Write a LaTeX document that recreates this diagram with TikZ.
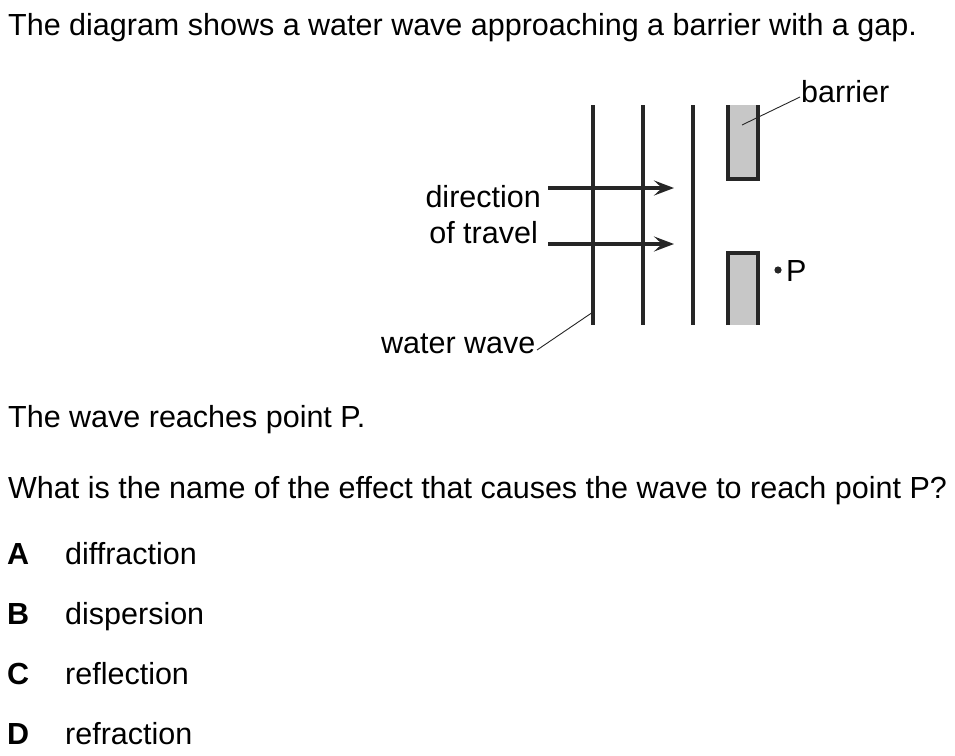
\documentclass[tikz,border=0pt]{standalone}
\usepackage{fontspec}
\setmainfont{Liberation Sans}
\usetikzlibrary{arrows.meta}
\begin{document}
\begin{tikzpicture}[x=1pt,y=-1pt,
  txt/.style={inner sep=0pt,font=\fontsize{30.5}{36}\selectfont},
  lettr/.style={inner sep=0pt,font=\fontsize{30.5}{36}\selectfont\bfseries},
  wave/.style={line width=4pt,draw=black!85},
  barrierwall/.style={line width=3.5pt,draw=black!85,fill=black!22},
  travel/.style={line width=3.5pt,draw=black!85,-{Stealth[length=20pt,width=15pt,inset=8pt]}},
  leader/.style={line width=0.9pt,draw=black!85}]
\useasboundingbox (0,0) rectangle (955,755);
% texts
\node[txt,anchor=base west] (title) at (8,35) {The diagram shows a water wave approaching a barrier with a gap.};
\node[txt,anchor=base west] (reach) at (8,427) {The wave reaches point P.};
\node[txt,anchor=base west] (quest) at (8,498) {What is the name of the effect that causes the wave to reach point P?};
\node[lettr,anchor=base west] (la) at (7,564) {A};
\node[txt,anchor=base west] (oa) at (65,564) {diffraction};
\node[lettr,anchor=base west] (lb) at (7,624) {B};
\node[txt,anchor=base west] (ob) at (65,624) {dispersion};
\node[lettr,anchor=base west] (lc) at (7,684) {C};
\node[txt,anchor=base west] (oc) at (65,684) {reflection};
\node[lettr,anchor=base west] (ld) at (7,744) {D};
\node[txt,anchor=base west] (od) at (65,744) {refraction};
% diagram labels
\node[txt,anchor=base east] (dir1) at (541,207) {direction};
\node[txt,anchor=base east] (dir2) at (538,243) {of travel};
\node[txt,anchor=base west] (wlab) at (381,353) {water wave};
\node[txt,anchor=base west] (blab) at (801,102) {barrier};
\node[txt,anchor=base west] (plab) at (786,281) {P};
% wave fronts
\coordinate (w1t) at (593,105); \coordinate (w1b) at (593,325);
\coordinate (w2t) at (643,105); \coordinate (w2b) at (643,325);
\coordinate (w3t) at (693,105); \coordinate (w3b) at (693,325);
\draw[wave] (w1t) -- (w1b);
\draw[wave] (w2t) -- (w2b);
\draw[wave] (w3t) -- (w3b);
% barrier
\draw[barrierwall] (728,105) -- (728,179) -- (758,179) -- (758,105);
\draw[barrierwall] (728,325) -- (728,253) -- (758,253) -- (758,325);
% arrows
\coordinate (a1s) at (548,188); \coordinate (a1e) at (674,188);
\coordinate (a2s) at (548,244); \coordinate (a2e) at (674,244);
\draw[travel] (a1s) -- (a1e);
\draw[travel] (a2s) -- (a2e);
% point P
\fill[black!85] (778,270) circle (3.6pt) coordinate (P);
% leaders
\coordinate (bpt) at (742,125); \coordinate (bend) at (800,97);
\draw[leader] (bpt) -- (bend);
\coordinate (wpt) at (593,312); \coordinate (wend) at (537,350);
\draw[leader] (wpt) -- (wend);
\end{tikzpicture}
\end{document}
